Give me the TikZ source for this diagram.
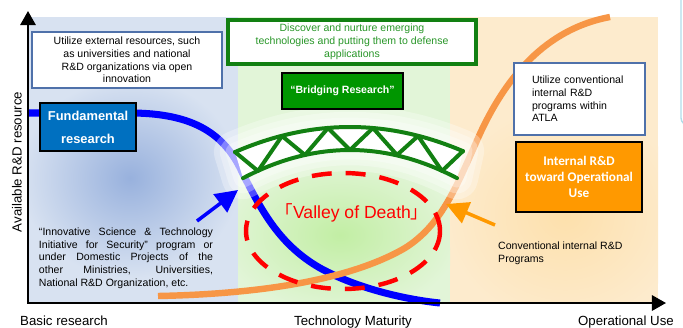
\documentclass[tikz,border=0pt]{standalone}
\usepackage{fontspec}
\setmainfont{Liberation Sans}
\newfontfamily\calfont{Carlito}
\newfontfamily\cjk{Noto Sans CJK JP}
\usepackage{tikz}
\usetikzlibrary{arrows.meta}
\definecolor{openblue}{RGB}{216,226,241}
\definecolor{blobblue}{RGB}{152,177,221}
\definecolor{bridgegreen}{RGB}{226,245,216}
\definecolor{valleygreen}{RGB}{194,238,164}
\definecolor{ownorange}{RGB}{253,235,205}
\definecolor{ownorangemid}{RGB}{253,224,172}
\definecolor{boxedge}{RGB}{79,113,170}
\definecolor{fundblue}{RGB}{0,112,192}
\definecolor{trussgreen}{RGB}{18,128,18}
\definecolor{bridgefill}{RGB}{0,150,0}
\definecolor{greentext}{RGB}{40,150,40}
\definecolor{curveblue}{RGB}{0,0,255}
\definecolor{curveorange}{RGB}{247,150,70}
\definecolor{arroworange}{RGB}{255,153,0}
\definecolor{internalorange}{RGB}{255,153,0}
\definecolor{deathred}{RGB}{255,0,0}
\definecolor{sidecyan}{RGB}{176,220,233}

\begin{document}
\begin{tikzpicture}[x=0.03cm, y=-0.03cm,
    infobox/.style={draw=boxedge, line width=0.9pt, fill=white, inner sep=0pt, font=\fontsize{9}{10.8}\selectfont},
    keybox/.style={draw=black, line width=1.3pt, text=white, inner sep=0pt},
    smalltext/.style={font=\fontsize{9}{10.8}\selectfont, inner sep=0pt},
    axislabel/.style={font=\fontsize{11.3}{13}\selectfont, inner sep=0pt},
    truss/.style={draw=trussgreen, line width=3.4pt, line join=round, line cap=round},
    pointer/.style={line width=3pt, -{Triangle[length=19pt,width=19pt]}},
    chords/.style={insert path={plot[domain=235:463, samples=40] (\x,{127+0.00189*(\x-350)*(\x-350)})
        -- plot[domain=457:243, samples=40] (\x,{150+0.00245*(\x-350)*(\x-350)}) -- cycle}}]
    \useasboundingbox (0,0) rectangle (683,327);
    \clip (0,0) rectangle (683,327);

    % Background regions
    \fill[openblue] (28,17) rectangle (238,303);
    \fill[bridgegreen] (238,17) rectangle (450,303);
    \fill[ownorange] (450,17) rectangle (658,303);
    \begin{scope}
        \clip (28,17) rectangle (238,303);
        \shade[inner color=blobblue, outer color=openblue] (130,178) ellipse (110 and 100);
    \end{scope}
    \begin{scope}
        \clip (238,17) rectangle (450,303);
        \shade[inner color=valleygreen, outer color=bridgegreen] (340,235) ellipse (120 and 80);
    \end{scope}
    \begin{scope}
        \clip (450,17) rectangle (658,303);
        \shade[inner color=ownorangemid, outer color=ownorange] (565,215) ellipse (120 and 110);
    \end{scope}

    % Side panel, cut off at the right
    \draw[sidecyan, line width=1.2pt, rounded corners=6pt] (681,-20) rectangle (720,125);

    % Resource curves
    \draw[curveblue, line width=6pt] (28,113) -- (130,113)
        .. controls (195,113) and (225,135) .. (242,172)
        .. controls (262,212) and (280,245) .. (320,268)
        .. controls (360,290) and (410,300) .. (440,303);
    \draw[curveorange, line width=5.5pt] (158,296)
        .. controls (260,294) and (350,280) .. (405,248)
        .. controls (440,226) and (455,190) .. (475,145)
        .. controls (500,86) and (540,30) .. (610,17);

    % Glow round the bridge
    \foreach \w in {36,26,16}
        \draw[white, opacity=0.3, line width=\w pt, line join=round, chords];
    \fill[white, chords];

    % Bridge truss
    \coordinate (t0) at (235,152);
    \coordinate (b1) at (258,171);
    \coordinate (u1) at (282,136);
    \coordinate (b2) at (305,155);
    \coordinate (u2) at (328,128);
    \coordinate (b3) at (350,150);
    \coordinate (u3) at (373,128);
    \coordinate (b4) at (397,155);
    \coordinate (u4) at (418,136);
    \coordinate (b5) at (442,171);
    \coordinate (t5) at (463,151);
    \draw[truss] plot[domain=235:463, samples=40] (\x,{127+0.00189*(\x-350)*(\x-350)});
    \draw[truss] plot[domain=243:457, samples=40] (\x,{150+0.00245*(\x-350)*(\x-350)});
    \draw[truss] (t0) -- (b1) -- (u1) -- (b2) -- (u2) -- (b3) -- (u3) -- (b4) -- (u4) -- (b5) -- (t5);

    % Valley of death
    \draw[deathred, line width=3.8pt, dash pattern=on 17pt off 12pt] (343,231) ellipse (97 and 58);
    \node[text=deathred, inner sep=0pt, font=\fontsize{15}{17}\selectfont] (valley) at (352,213)
        {{\cjk 「}Valley of Death{\cjk 」}};

    % Left column
    \node[infobox, minimum width=5.7cm, minimum height=1.68cm, align=center] (external) at (127,60)
        {Utilize external resources, such\\ as universities and national\\ R\&D organizations via open\\ innovation};
    \node[keybox, fill=fundblue, minimum width=2.88cm, minimum height=1.44cm, align=center,
        font=\fontsize{11}{19.6}\selectfont\bfseries] (fundamental) at (88,127) {Fundamental\\ research};
    \node[smalltext, text width=5.22cm, align=justify] (initiative) at (126,258)
        {“Innovative Science \& Technology\linebreak Initiative for Security” program or\linebreak
        under Domestic Projects of the\linebreak other Ministries, Universities,\linebreak
        National R\&D Organization, etc.};

    % Middle column
    \node[draw=trussgreen, line width=3pt, fill=white, text=greentext, inner sep=0pt,
        minimum width=7.44cm, minimum height=1.32cm, align=center,
        font=\fontsize{9}{11}\selectfont] (discover) at (352,42)
        {Discover and nurture emerging\\ technologies and putting them to defense\\ applications};
    \node[keybox, fill=bridgefill, minimum width=3.63cm, minimum height=1.08cm,
        font=\fontsize{9}{11}\selectfont\bfseries] (bridging) at (342.5,91) {“Bridging Research”};

    % Right column
    \node[infobox, minimum width=3.93cm, minimum height=2.16cm, text width=2.85cm, align=left] (conventional) at (579.5,99)
        {Utilize conventional\\ internal R\&D\\ programs within\\ ATLA};
    \node[keybox, fill=internalorange, minimum width=3.78cm, minimum height=2.1cm, align=center,
        font=\calfont\fontsize{11.3}{13.6}\selectfont\bfseries] (internal) at (579,177)
        {Internal R\&D\\ toward Operational\\ Use};
    \node[smalltext, anchor=west, align=left] (programs) at (498,253)
        {Conventional internal R\&D\\ Programs};

    % Pointers into the valley
    \coordinate (bluetail) at (197,221);
    \coordinate (bluetip) at (238,190);
    \draw[pointer, curveblue] (bluetail) -- (bluetip);
    \coordinate (orangetail) at (495,225);
    \coordinate (orangetip) at (446,204);
    \draw[pointer, arroworange] (orangetail) -- (orangetip);

    % Axes
    \coordinate (origin) at (28,303);
    \coordinate (ytip) at (28,11);
    \coordinate (xtip) at (666,303);
    \draw[line width=2pt, {Triangle[length=12pt,width=13pt]}-{Triangle[length=12pt,width=13pt]}]
        (ytip) -- (origin) -- (xtip);
    \node[axislabel, rotate=90] (resource) at (17,162) {Available R\&D resource};
    \node[axislabel, anchor=base west] (basic) at (20,325) {Basic research};
    \node[axislabel, anchor=base] (maturity) at (353,325) {Technology Maturity};
    \node[axislabel, anchor=base east] (operational) at (674,325) {Operational Use};
\end{tikzpicture}
\end{document}
